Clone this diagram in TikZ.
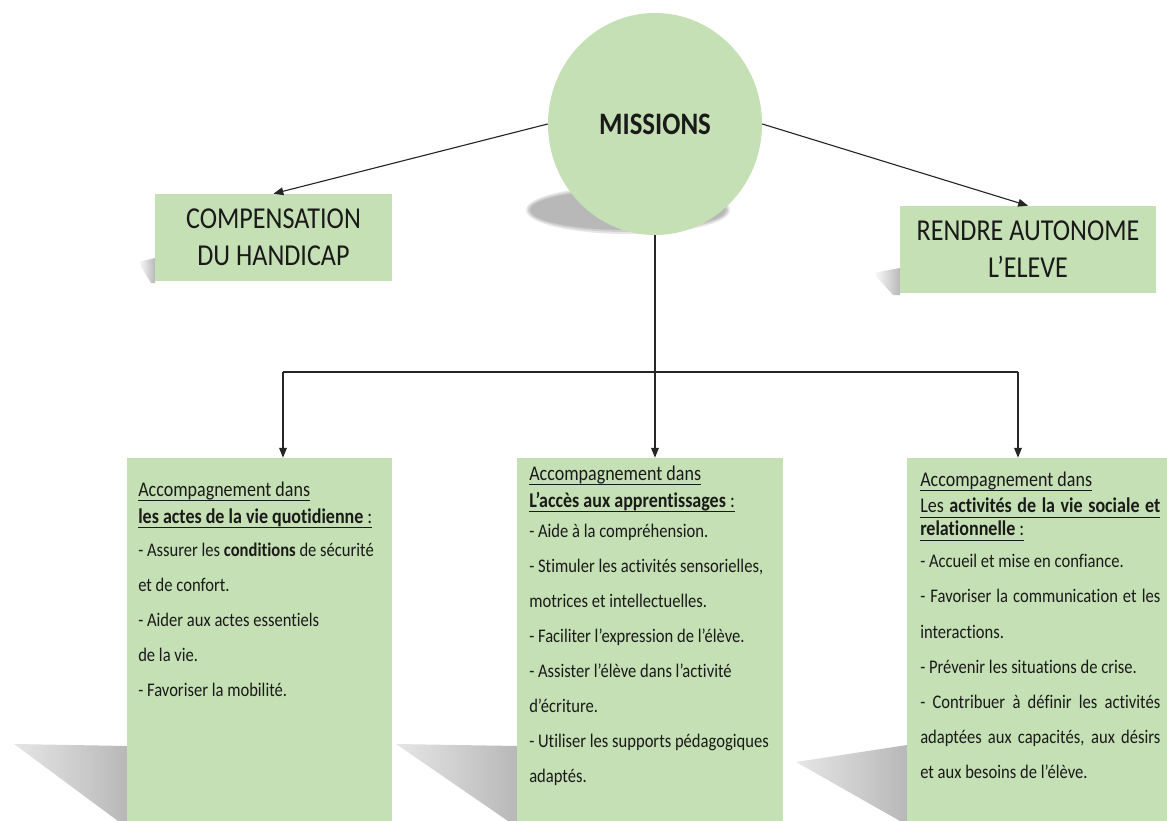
\documentclass[tikz,border=0pt]{standalone}
\usepackage{fontspec}
\setmainfont{Carlito}[FakeStretch=0.86,Ligatures=NoCommon]
\usetikzlibrary{shapes.geometric,arrows.meta,positioning}
\definecolor{vert}{HTML}{C5E0B4}
\definecolor{encre}{HTML}{1A1A1A}
\definecolor{ombre}{HTML}{B8B8B8}
\newsavebox{\boitesoul}
\newcommand{\souligne}[1]{\sbox{\boitesoul}{#1}\rlap{\rule[-3.2pt]{\wd\boitesoul}{0.6pt}}\usebox{\boitesoul}}
\newcommand{\entete}[1]{{\fontsize{14.9}{19}\selectfont #1}}

\begin{document}
\begin{tikzpicture}[x=0.025cm,y=-0.025cm,
  boite/.style={fill=vert,inner sep=0pt,text=encre},
  fleche/.style={-{Triangle[length=7pt,width=5.5pt]},black!85,line width=0.8pt},
  trait/.style={black!85,line width=0.8pt},
  texte/.style={anchor=north west,inner sep=0pt,align=left,text=encre,font=\fontsize{13.7}{19}\selectfont}]
\useasboundingbox (0,0) rectangle (1167,821);

\fill[ombre!35] (628,210) ellipse [x radius=2.55cm,y radius=0.6cm];
\fill[ombre!70] (628,210) ellipse [x radius=2.5cm,y radius=0.55cm];
\fill[ombre] (628,210) ellipse [x radius=2.45cm,y radius=0.5cm];
\shade[left color=white,right color=ombre] (138,262) -- (155,258) -- (155,283) -- (151,283) -- cycle;
\shade[left color=white,right color=ombre] (873,273) -- (900,268) -- (900,295) -- (893,295) -- cycle;
\shade[left color=ombre!35,right color=ombre] (14,744) -- (127,746) -- (127,821) -- (118,821) -- cycle;
\shade[left color=ombre!35,right color=ombre] (396,744) -- (517,746) -- (517,821) -- (508,821) -- cycle;
\shade[left color=ombre!35,right color=ombre] (796,762) -- (907,745) -- (907,821) -- (900,821) -- cycle;

\node[ellipse,boite,minimum width=5.35cm,minimum height=5.55cm,font=\fontsize{22.2}{26}\selectfont\bfseries] (missions) at (655,124) {MISSIONS};
\node[boite,minimum width=5.925cm,minimum height=2.175cm,align=center,font=\fontsize{21.6}{26.3}\selectfont] (compensation) at (273.5,237.5) {COMPENSATION\\DU HANDICAP};
\node[boite,minimum width=6.4cm,minimum height=2.175cm,align=center,font=\fontsize{21.6}{26.3}\selectfont] (autonome) at (1028,249.5) {RENDRE AUTONOME\\L’ELEVE};

\node[boite,minimum width=6.625cm,minimum height=9.075cm] (quotidien) at (259.5,639.5) {};
\node[boite,minimum width=6.65cm,minimum height=9.075cm] (apprentissage) at (650,639.5) {};
\node[boite,minimum width=6.5cm,minimum height=9.075cm] (social) at (1037,639.5) {};

\node[texte] (quotidien-txt) at (138,482) {\entete{\souligne{Accompagnement dans}}\\
  \entete{\souligne{\textbf{les actes de la vie quotidienne} :}}\\[4.5pt]
  - Assurer les \textbf{conditions} de sécurité\\[5.9pt]
  et de confort.\\[5.9pt]
  - Aider aux actes essentiels\\[5.9pt]
  de la vie.\\[5.9pt]
  - Favoriser la mobilité.};
\node[texte] (apprentissage-txt) at (529,466) {\entete{\souligne{Accompagnement dans}}\\
  \entete{\souligne{\textbf{L’accès aux apprentissages} :}}\\[2.3pt]
  - Aide à la compréhension.\\[5.9pt]
  - Stimuler les activités sensorielles,\\[5.9pt]
  motrices et intellectuelles.\\[5.9pt]
  - Faciliter l’expression de l’élève.\\[5.9pt]
  - Assister l’élève dans l’activité\\[5.9pt]
  d’écriture.\\[5.9pt]
  - Utiliser les supports pédagogiques\\[5.9pt]
  adaptés.};
\node[texte] (social-txt) at (920,472) {\entete{\souligne{Accompagnement dans}}\\[-0.5pt]
  \entete{\souligne{\makebox[6cm][s]{Les \textbf{activités de la vie sociale et}}}}\\[-2.6pt]
  \entete{\souligne{\textbf{relationnelle} :}}\\[3.8pt]
  - Accueil et mise en confiance.\\[5.9pt]
  \makebox[6cm][s]{- Favoriser la communication et les}\\[5.9pt]
  interactions.\\[5.9pt]
  - Prévenir les situations de crise.\\[5.9pt]
  \makebox[6cm][s]{- Contribuer à définir les activités}\\[5.9pt]
  \makebox[6cm][s]{adaptées aux capacités, aux désirs}\\[5.9pt]
  et aux besoins de l’élève.};

\coordinate (fourche) at (655,372);
\coordinate (fourche-g) at (283,372);
\coordinate (fourche-d) at (1018,372);

\draw[fleche] (missions.west) -- (compensation.north);
\draw[fleche] (missions.east) -- (autonome.north);
\draw[trait] (missions.south) -- (fourche);
\draw[trait] (fourche-g) -- (fourche-d);
\draw[fleche] (fourche-g) -- (fourche-g |- quotidien.north);
\draw[fleche] (fourche) -- (fourche |- apprentissage.north);
\draw[fleche] (fourche-d) -- (fourche-d |- social.north);

\end{tikzpicture}
\end{document}
